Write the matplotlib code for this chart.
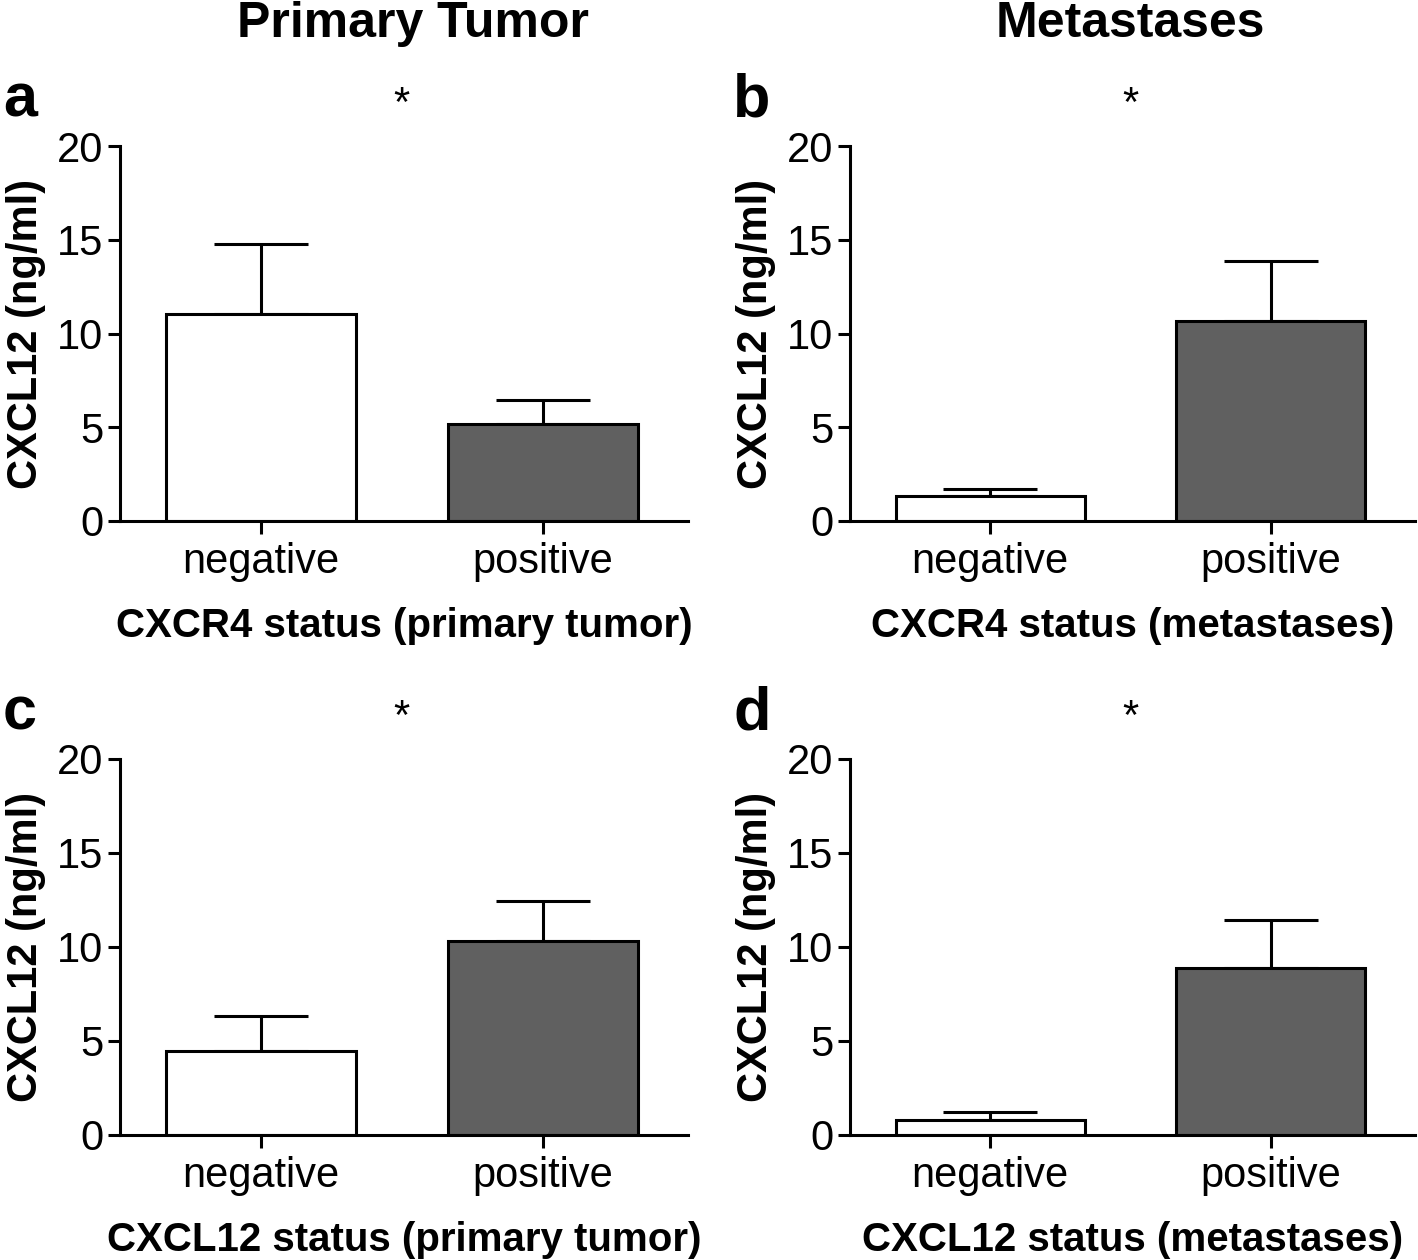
import matplotlib
matplotlib.use("Agg")
import matplotlib.pyplot as plt

plt.rcParams['font.family'] = ['Liberation Sans', 'DejaVu Sans']

categories = ["negative", "positive"]
panel_letters = ["a", "b", "c", "d"]
column_titles = ["Primary Tumor", "Metastases"]
xlabels = ["CXCR4 status (primary tumor)", "CXCR4 status (metastases)",
           "CXCL12 status (primary tumor)", "CXCL12 status (metastases)"]
ylabel = "CXCL12 (ng/ml)"
yticks = [0, 5, 10, 15, 20]

means_a = [11.05, 5.15]
sem_a = [3.70, 1.30]
means_b = [1.33, 10.67]
sem_b = [0.40, 3.20]
means_c = [4.47, 10.32]
sem_c = [1.86, 2.13]
means_d = [0.80, 8.86]
sem_d = [0.45, 2.57]
significance = ["*", "*", "*", "*"]

all_means = [means_a, means_b, means_c, means_d]
all_sems = [sem_a, sem_b, sem_c, sem_d]
bar_colors = ["white", "#606060"]

W, H = 1418, 1260
fig = plt.figure(figsize=(W / 100, H / 100), dpi=100)

# axes boxes in pixels: (left, right, y_zero, y_top)
boxes = [(120, 688, 521, 146), (850, 1415, 521, 146),
         (120, 688, 1135, 759), (850, 1415, 1135, 759)]

lw = 2.2
for i, (l, r, y0, y1) in enumerate(boxes):
    ax = fig.add_axes([l / W, 1 - y0 / H, (r - l) / W, (y0 - y1) / H])
    x = [0, 1]
    ax.bar(x, all_means[i], width=0.675, color=bar_colors, edgecolor="black",
           linewidth=lw, zorder=2)
    ax.errorbar(x, all_means[i], yerr=[[0, 0], all_sems[i]], fmt="none",
                ecolor="black", elinewidth=lw, capsize=34, capthick=lw, zorder=1)
    ax.set_xlim(-0.5, 1.515)
    ax.set_ylim(0, 20)
    ax.set_yticks(yticks)
    ax.set_xticks(x)
    ax.set_xticklabels(categories)
    for s in ["top", "right"]:
        ax.spines[s].set_visible(False)
    for s in ["left", "bottom"]:
        ax.spines[s].set_linewidth(lw)
    ax.tick_params(axis="both", width=lw, length=9, labelsize=30, direction="out")
    ax.tick_params(axis="y", pad=3)
    ax.tick_params(axis="x", pad=6)
    ax.set_xlabel(xlabels[i], fontsize=29, fontweight="bold", labelpad=18)
    ax.set_ylabel(ylabel, fontsize=30, fontweight="bold", labelpad=8)
    ax.text(0.5, 22.2, significance[i], ha="center", va="center", fontsize=30,
            clip_on=False)
    # panel letter
    fig.text((l - 117) / W, 1 - (y1 - 45) / H, panel_letters[i], fontsize=44,
             fontweight="bold", ha="left", va="center")

fig.text(413 / W, 1 - 24 / H, column_titles[0], fontsize=36, fontweight="bold",
         ha="center", va="center")
fig.text(1130 / W, 1 - 24 / H, column_titles[1], fontsize=36, fontweight="bold",
         ha="center", va="center")

fig.savefig("out.png", dpi=100)
